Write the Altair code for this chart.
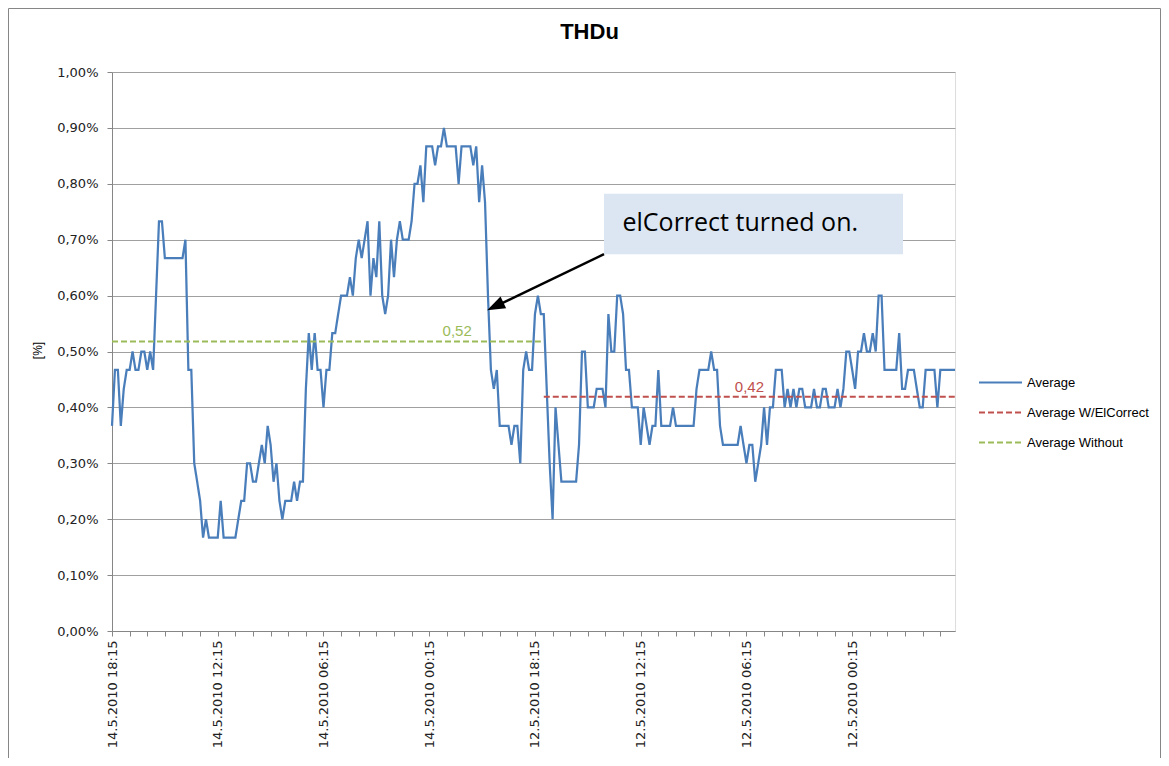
import altair as alt
import pandas as pd

# ---------------- data ----------------
chart_title = "THDu"
y_title = "[%]"
series_names = ["Average", "Average W/ElCorrect", "Average Without"]
series_colors = ["#4A7EBB", "#C0504D", "#9BBB59"]

# THDu average, % (10-minute samples)
thdu_average = [
    0.367, 0.467, 0.467, 0.367, 0.433, 0.467, 0.467, 0.5, 0.467, 0.467,
    0.5, 0.5, 0.467, 0.5, 0.467, 0.6, 0.733, 0.733, 0.667, 0.667,
    0.667, 0.667, 0.667, 0.667, 0.667, 0.7, 0.467, 0.467, 0.3, 0.267,
    0.233, 0.167, 0.2, 0.167, 0.167, 0.167, 0.167, 0.233, 0.167, 0.167,
    0.167, 0.167, 0.167, 0.2, 0.233, 0.233, 0.3, 0.3, 0.267, 0.267,
    0.3, 0.333, 0.3, 0.367, 0.333, 0.267, 0.3, 0.233, 0.2, 0.233,
    0.233, 0.233, 0.267, 0.233, 0.267, 0.267, 0.433, 0.533, 0.467, 0.533,
    0.467, 0.467, 0.4, 0.467, 0.467, 0.533, 0.533, 0.567, 0.6, 0.6,
    0.6, 0.633, 0.6, 0.667, 0.7, 0.667, 0.7, 0.733, 0.6, 0.667,
    0.633, 0.733, 0.6, 0.567, 0.6, 0.7, 0.633, 0.7, 0.733, 0.7,
    0.7, 0.7, 0.733, 0.8, 0.8, 0.833, 0.767, 0.867, 0.867, 0.867,
    0.833, 0.867, 0.867, 0.9, 0.867, 0.867, 0.867, 0.867, 0.8, 0.867,
    0.867, 0.867, 0.867, 0.833, 0.867, 0.767, 0.833, 0.767, 0.6, 0.467,
    0.433, 0.467, 0.367, 0.367, 0.367, 0.367, 0.333, 0.367, 0.367, 0.3,
    0.467, 0.5, 0.467, 0.467, 0.567, 0.6, 0.567, 0.567, 0.433, 0.3,
    0.2, 0.4, 0.333, 0.267, 0.267, 0.267, 0.267, 0.267, 0.267, 0.333,
    0.5, 0.5, 0.4, 0.4, 0.4, 0.433, 0.433, 0.433, 0.4, 0.567,
    0.5, 0.5, 0.6, 0.6, 0.567, 0.467, 0.467, 0.4, 0.4, 0.4,
    0.333, 0.4, 0.367, 0.333, 0.367, 0.367, 0.467, 0.367, 0.367, 0.367,
    0.367, 0.4, 0.367, 0.367, 0.367, 0.367, 0.367, 0.367, 0.367, 0.433,
    0.467, 0.467, 0.467, 0.467, 0.5, 0.467, 0.467, 0.367, 0.333, 0.333,
    0.333, 0.333, 0.333, 0.333, 0.367, 0.333, 0.3, 0.333, 0.333, 0.267,
    0.3, 0.333, 0.4, 0.333, 0.4, 0.4, 0.467, 0.467, 0.467, 0.4,
    0.433, 0.4, 0.433, 0.4, 0.433, 0.433, 0.4, 0.4, 0.4, 0.433,
    0.4, 0.4, 0.433, 0.433, 0.4, 0.4, 0.4, 0.433, 0.4, 0.433,
    0.5, 0.5, 0.467, 0.433, 0.5, 0.5, 0.533, 0.5, 0.5, 0.533,
    0.5, 0.6, 0.6, 0.467, 0.467, 0.467, 0.467, 0.467, 0.533, 0.433,
    0.433, 0.467, 0.467, 0.467, 0.433, 0.4, 0.4, 0.467, 0.467, 0.467,
    0.467, 0.4, 0.467, 0.467, 0.467, 0.467, 0.467, 0.467,
]

avg_without_value = 0.518
avg_without_span = [0, 146]
avg_without_label = "0,52"
avg_with_value = 0.419
avg_with_span = [147, 287]
avg_with_label = "0,42"

x_tick_labels = [
    "14.5.2010 18:15", "14.5.2010 12:15", "14.5.2010 06:15", "14.5.2010 00:15",
    "12.5.2010 18:15", "12.5.2010 12:15", "12.5.2010 06:15", "12.5.2010 00:15",
]
label_every = 36
tick_every = 6
y_ticks = [0.0, 0.1, 0.2, 0.3, 0.4, 0.5, 0.6, 0.7, 0.8, 0.9, 1.0]

annotation_text = "elCorrect turned on."

# ---------------- frames ----------------
n = len(thdu_average)
df_avg = pd.DataFrame({"idx": list(range(n)), "val": thdu_average, "series": series_names[0]})
df_with = pd.DataFrame({"idx": avg_with_span, "val": [avg_with_value] * 2, "series": series_names[1]})
df_without = pd.DataFrame({"idx": avg_without_span, "val": [avg_without_value] * 2, "series": series_names[2]})

df_labels = pd.DataFrame({
    "idx": [117.5, 217.0],
    "val": [0.537, 0.436],
    "txt": [avg_without_label, avg_with_label],
    "col": [series_colors[2], series_colors[1]],
})
df_box = pd.DataFrame({"x": [167.5], "x2": [269.3], "y": [0.782], "y2": [0.674]})
df_note = pd.DataFrame({"idx": [173.8], "val": [0.729], "txt": [annotation_text]})
df_arrow = pd.DataFrame({"x": [167.5], "x2": [130.2], "y": [0.674], "y2": [0.580]})
df_tip = pd.DataFrame({"idx": [127.7], "val": [0.574]})
df_frame = pd.DataFrame({"k": [0]})

# ---------------- scales / axes ----------------
labels_js = "[" + ",".join("'" + s + "'" for s in x_tick_labels) + "]"
x_label_expr = f"datum.value % {label_every} == 0 ? {labels_js}[datum.value / {label_every}] : ''"

x_scale = alt.Scale(domain=[0, n - 1], nice=False, zero=False)
y_scale = alt.Scale(domain=[0, 1], nice=False, zero=True)

x_axis = alt.Axis(
    values=list(range(0, n, tick_every)),
    tickCount=200,
    labelExpr=x_label_expr,
    labelAngle=-90,
    grid=False,
    title=None,
    tickSize=5,
    tickColor="#868686",
    domainColor="#868686",
    labelFont="DejaVu Sans",
    labelFontSize=13,
    labelColor="#222222",
    labelPadding=4,
    labelOverlap=False,
    labelBound=False,
    labelFlush=False,
)
y_axis = alt.Axis(
    values=y_ticks,
    tickCount=50,
    labelExpr="replace(format(datum.value, '.2f'), '.', ',') + '%'",
    grid=True,
    gridColor="#A0A0A0",
    gridWidth=1,
    tickSize=5,
    tickColor="#868686",
    domainColor="#868686",
    labelFont="DejaVu Sans",
    labelFontSize=13,
    labelColor="#222222",
    labelPadding=9,
    title=y_title,
    titleFont="Liberation Sans",
    titleFontSize=12,
    titleFontWeight="normal",
    titleColor="#000000",
    titleAngle=-90,
    titleX=-75,
    titleY=278,
    titleAlign="center",
    titleBaseline="middle",
)

legend = alt.Legend(
    orient="none",
    legendX=866,
    legendY=288,
    title=None,
    symbolType="stroke",
    symbolSize=1849,
    symbolStrokeWidth=2,
    labelFont="Liberation Sans",
    labelFontSize=13,
    labelColor="#000000",
    labelOffset=4,
    rowPadding=-1,
)
color_scale = alt.Scale(domain=series_names, range=series_colors)
dash_scale = alt.Scale(domain=series_names, range=[[1, 0], [6, 3], [6, 3]])

enc = dict(
    x=alt.X("idx:Q", scale=x_scale, axis=x_axis),
    y=alt.Y("val:Q", scale=y_scale, axis=y_axis),
    color=alt.Color("series:N", scale=color_scale, legend=legend),
    strokeDash=alt.StrokeDash("series:N", scale=dash_scale, legend=legend),
)

avg_line = alt.Chart(df_avg).mark_line(strokeWidth=2.25).encode(**enc)
with_line = alt.Chart(df_with).mark_line(strokeWidth=2).encode(**enc)
without_line = alt.Chart(df_without).mark_line(strokeWidth=2).encode(**enc)

avg_labels = alt.Chart(df_labels).mark_text(
    font="Liberation Sans", fontSize=15, align="center", baseline="middle"
).encode(
    x="idx:Q", y="val:Q", text="txt:N",
    color=alt.Color("col:N", scale=None, legend=None),
)

box = alt.Chart(df_box).mark_rect(fill="#DCE6F2").encode(
    x="x:Q", x2="x2:Q", y="y:Q", y2="y2:Q"
)
note = alt.Chart(df_note).mark_text(
    font="Open Sans", fontSize=25, align="left", baseline="middle", color="#000000"
).encode(x="idx:Q", y="val:Q", text="txt:N")

arrow_line = alt.Chart(df_arrow).mark_rule(color="#000000", strokeWidth=2.5).encode(
    x="x:Q", x2="x2:Q", y="y:Q", y2="y2:Q"
)
arrow_head = alt.Chart(df_tip).mark_point(
    shape="M0,0L0.65,1.8L-0.65,1.8Z", filled=True, color="#000000", opacity=1,
    size=400, angle=244.4,
).encode(x="idx:Q", y="val:Q")

frame = alt.Chart(df_frame).mark_rect(
    fillOpacity=0, stroke="#868686", strokeWidth=1
).encode(
    x=alt.value(-103.5), x2=alt.value(1048.5), y=alt.value(-63.5), y2=alt.value(720)
)

chart = alt.layer(
    frame, avg_line, with_line, without_line, avg_labels, box, note, arrow_line, arrow_head
).properties(
    width=843,
    height=559,
    autosize=alt.AutoSizeParams(type="none"),
    padding={"left": 104, "top": 64, "right": 206, "bottom": 127},
    title=alt.TitleParams(
        chart_title, font="Liberation Sans", fontSize=22, fontWeight="bold",
        color="#000000", anchor="middle", frame="group", dx=56, offset=-36,
    ),
).configure_view(stroke=None).configure(background="white")

chart.save("out.html", embed_options={"renderer": "svg", "actions": False})
